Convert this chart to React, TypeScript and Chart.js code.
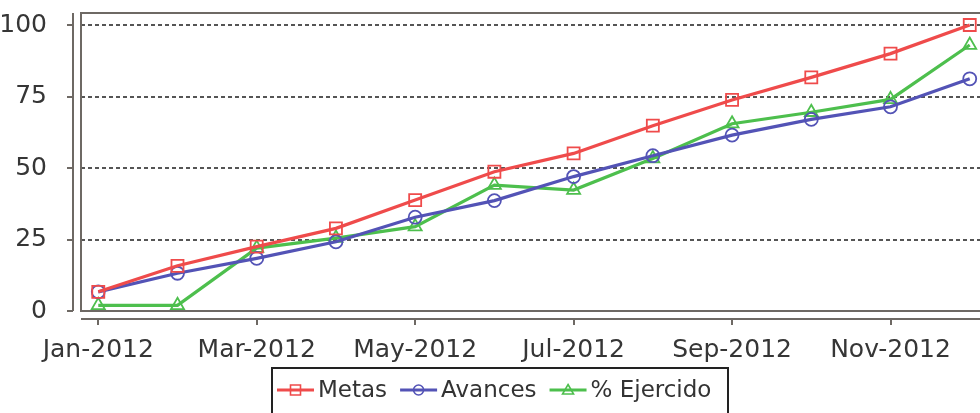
import React, { useEffect, useRef } from 'react';
import { Chart, registerables } from 'chart.js';

Chart.register(...registerables);

const months = ['Jan-2012', 'Feb-2012', 'Mar-2012', 'Apr-2012', 'May-2012', 'Jun-2012', 'Jul-2012', 'Aug-2012', 'Sep-2012', 'Oct-2012', 'Nov-2012', 'Dec-2012'];
const metas = [6.7, 15.8, 22.5, 28.9, 38.8, 48.7, 55.1, 64.8, 73.8, 81.7, 90, 100];
const avances = [6.7, 13.2, 18.4, 24.2, 32.8, 38.6, 47, 54.3, 61.5, 67, 71.4, 81.2];
const ejercido = [2, 2, 22, 25.5, 29.5, 44, 42.3, 53.3, 65.5, 69.5, 74, 93];
const yTicks = [0, 25, 50, 75, 100];
const xTickIdx = [0, 2, 4, 6, 8, 10];
const seriesNames = ['Metas', 'Avances', '% Ejercido'];
const seriesColors = ['#ef4b4b', '#5353b6', '#4dbf4d'];
const seriesShapes = ['rect', 'circle', 'triangle'];

const FONT = '"DejaVu Sans", sans-serif';

function drawMarker(ctx: CanvasRenderingContext2D, shape: string, x: number, y: number, s: number) {
  ctx.beginPath();
  if (shape === 'rect') {
    ctx.rect(x - s, y - s, 2 * s, 2 * s);
  } else if (shape === 'circle') {
    ctx.arc(x, y, s, 0, Math.PI * 2);
  } else {
    ctx.moveTo(x, y - s * 1.1);
    ctx.lineTo(x + s * 1.1, y + s * 0.8);
    ctx.lineTo(x - s * 1.1, y + s * 0.8);
    ctx.closePath();
  }
  ctx.stroke();
}

const framePlugin = {
  id: 'frame',
  beforeDatasetsDraw(chart: any) {
    const { ctx, chartArea: a, scales } = chart;
    const ys = scales.y;
    const xs = scales.x;
    ctx.save();
    ctx.lineWidth = 2;
    ctx.strokeStyle = '#555555';
    ctx.setLineDash([4, 3]);
    yTicks.forEach((v) => {
      if (v === 0) return;
      const py = Math.round(ys.getPixelForValue(v));
      ctx.beginPath();
      ctx.moveTo(a.left, py);
      ctx.lineTo(a.right, py);
      ctx.stroke();
    });
    ctx.setLineDash([]);
    ctx.strokeStyle = '#6e6964';
    ctx.strokeRect(a.left, a.top, a.right - a.left, a.bottom - a.top);
    const ax = a.left - 8;
    const ay = a.bottom + 8;
    ctx.beginPath();
    ctx.moveTo(ax, a.top);
    ctx.lineTo(ax, a.bottom);
    yTicks.forEach((v) => {
      const py = Math.round(ys.getPixelForValue(v));
      ctx.moveTo(ax, py);
      ctx.lineTo(ax - 6, py);
    });
    ctx.moveTo(a.left, ay);
    ctx.lineTo(a.right, ay);
    xTickIdx.forEach((i) => {
      const px = Math.round(xs.getPixelForValue(i));
      ctx.moveTo(px, ay);
      ctx.lineTo(px, ay + 6);
    });
    ctx.stroke();
    ctx.restore();
  },
  afterDraw(chart: any) {
    const { ctx } = chart;
    ctx.save();
    const boxL = 272, boxT = 368, boxW = 456, boxH = 60;
    ctx.lineWidth = 2;
    ctx.strokeStyle = '#222222';
    ctx.strokeRect(boxL, boxT, boxW, boxH);
    ctx.font = '23px ' + FONT;
    ctx.textBaseline = 'middle';
    ctx.textAlign = 'left';
    const cy = 390;
    let x = boxL + 5;
    seriesNames.forEach((name, i) => {
      ctx.strokeStyle = seriesColors[i];
      ctx.lineWidth = 3;
      ctx.beginPath();
      ctx.moveTo(x, cy);
      ctx.lineTo(x + 37, cy);
      ctx.stroke();
      ctx.lineWidth = 1.6;
      drawMarker(ctx, seriesShapes[i], x + 18.5, cy, 5);
      x += 41;
      ctx.fillStyle = '#333333';
      ctx.fillText(name, x, cy + 1);
      x += ctx.measureText(name).width + 13;
    });
    ctx.restore();
  },
};

export default function App() {
  const ref = useRef<HTMLCanvasElement | null>(null);
  useEffect(() => {
    if (!ref.current) return;
    const mk = (data: number[]) => data.map((v, i) => ({ x: i, y: v }));
    const sets = [metas, avances, ejercido];
    const chart = new Chart(ref.current, {
      type: 'line',
      data: {
        datasets: sets.map((d, i) => ({
          label: seriesNames[i],
          data: mk(d),
          borderColor: seriesColors[i],
          backgroundColor: 'transparent',
          borderWidth: 3.2,
          tension: 0,
          pointStyle: seriesShapes[i] as any,
          pointRadius: i === 0 ? 8.5 : i === 1 ? 6.5 : 7.5,
          pointBorderWidth: 1.8,
          pointBackgroundColor: 'transparent',
          pointBorderColor: seriesColors[i],
          fill: false,
        })),
      },
      options: {
        animation: false,
        responsive: false,
        devicePixelRatio: 1,
        layout: { padding: { top: 13, right: 16, bottom: 0, left: 0 } },
        plugins: { legend: { display: false }, tooltip: { enabled: false } },
        scales: {
          x: {
            type: 'linear',
            min: -0.218,
            max: 11.18,
            grid: { display: false },
            border: { display: false },
            afterBuildTicks: (s: any) => {
              s.ticks = xTickIdx.map((v) => ({ value: v }));
            },
            afterFit: (s: any) => {
              s.height = 102;
              s.paddingLeft = 0;
              s.paddingRight = 0;
            },
            ticks: {
              autoSkip: false,
              maxRotation: 0,
              padding: 16,
              color: '#363636',
              font: { family: FONT, size: 25 },
              callback: (v: any) => months[v as number] ?? '',
            },
          },
          y: {
            type: 'linear',
            min: 0,
            max: 104.2,
            grid: { display: false },
            border: { display: false },
            afterBuildTicks: (s: any) => {
              s.ticks = yTicks.map((v) => ({ value: v }));
            },
            afterFit: (s: any) => {
              s.width = 81;
              s.paddingTop = 0;
              s.paddingBottom = 0;
            },
            ticks: {
              padding: 26,
              color: '#363636',
              font: { family: FONT, size: 25 },
            },
          },
        },
      },
      plugins: [framePlugin],
    });
    return () => chart.destroy();
  }, []);
  return (
    <div style={{ position: 'absolute', left: 0, top: 0, width: 980, height: 413, overflow: 'hidden', background: '#ffffff' }}>
      <canvas ref={ref} width={1000} height={413} style={{ display: 'block', width: 1000, height: 413 }} />
    </div>
  );
}
